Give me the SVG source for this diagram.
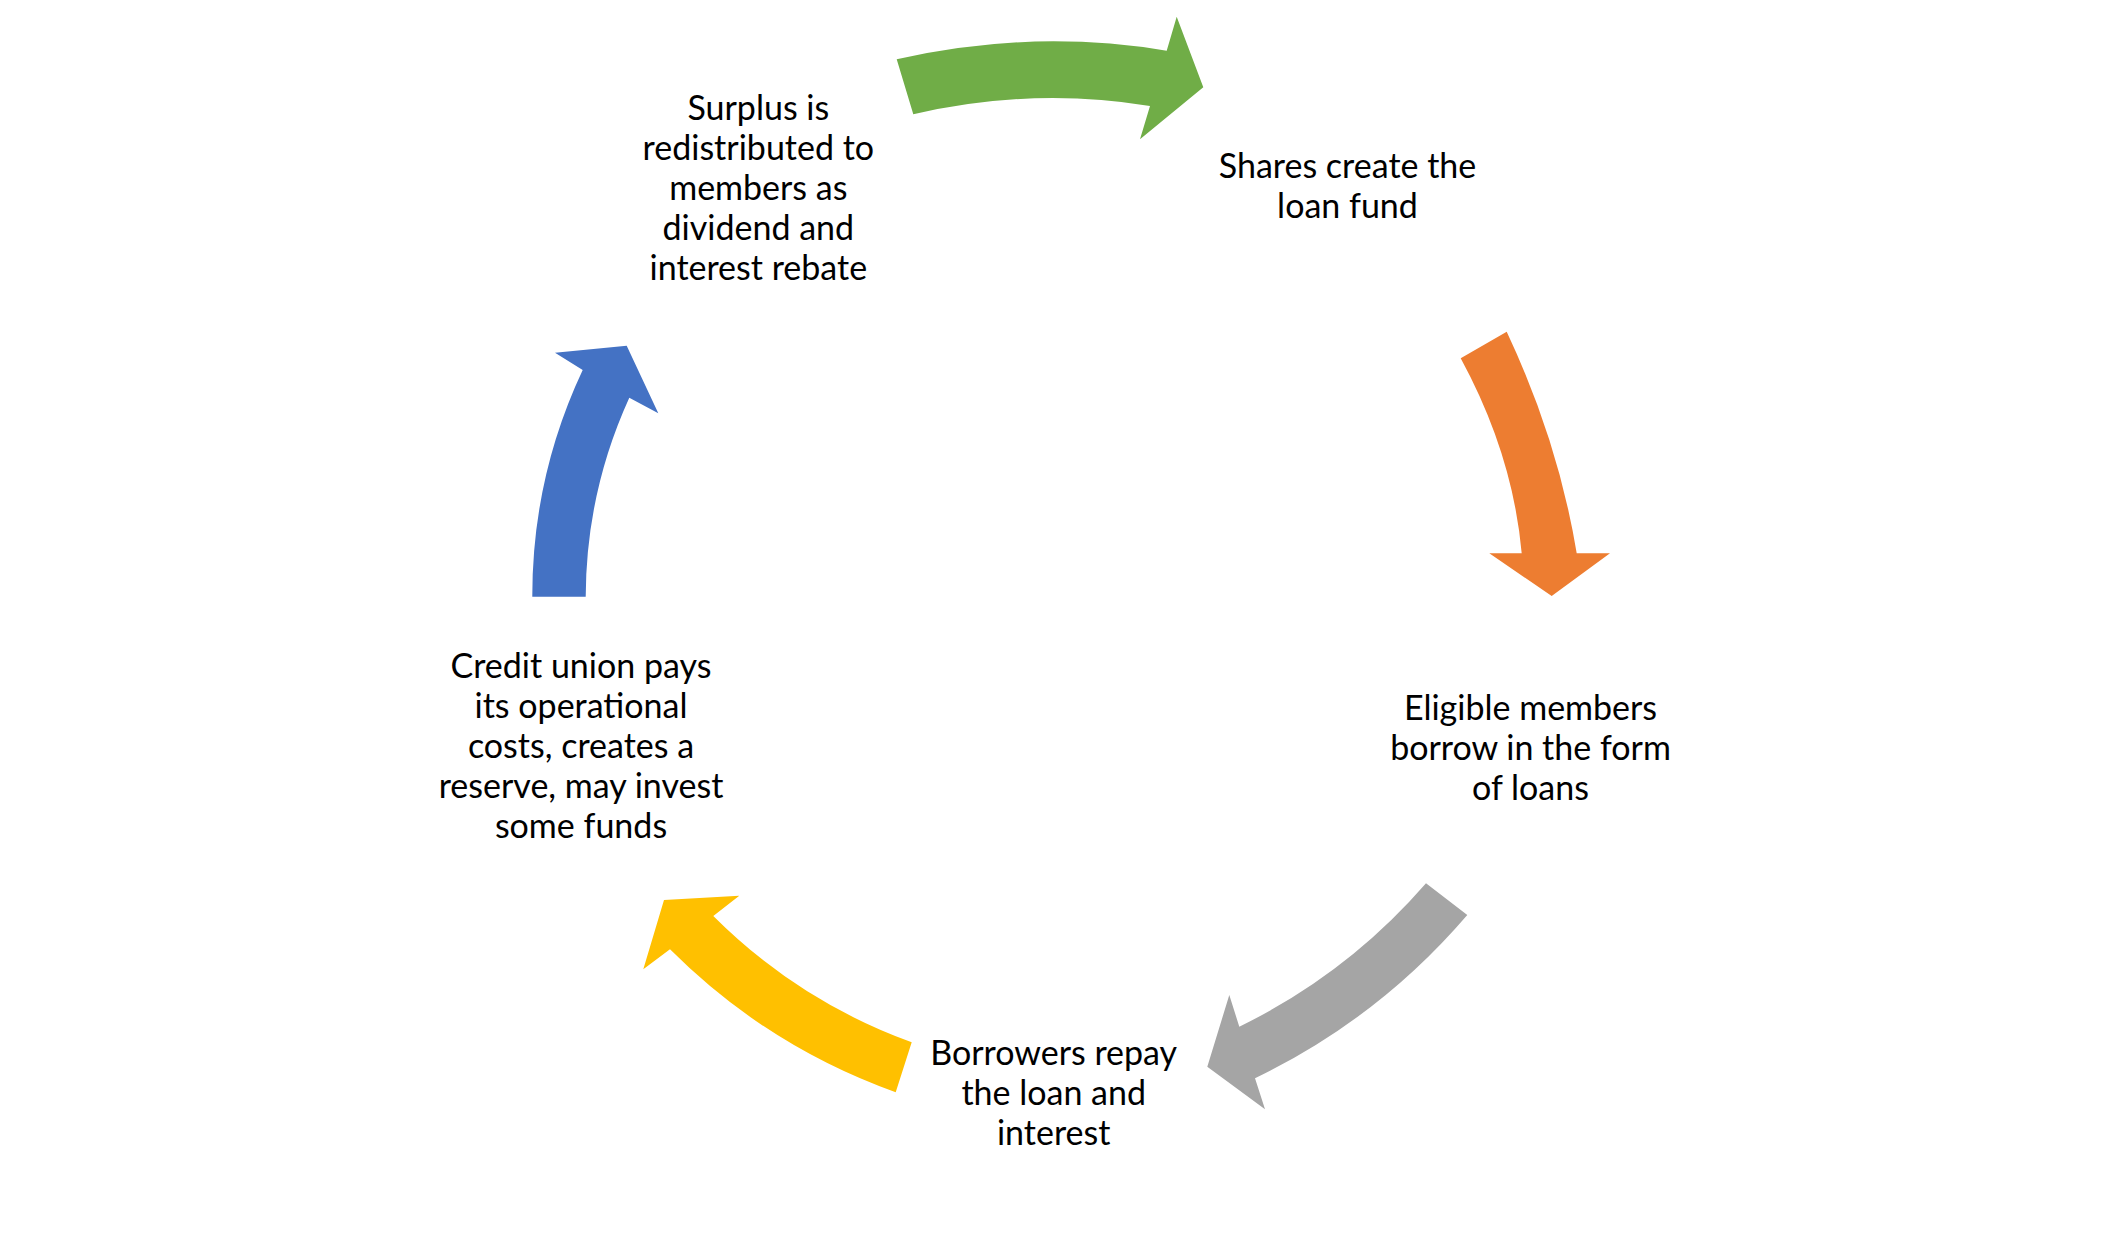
<svg xmlns="http://www.w3.org/2000/svg" width="2108" height="1246" viewBox="0 0 2108 1246">
<style>
.t{font-family:Lato,"Liberation Sans",sans-serif;font-size:34px;fill:#000;text-anchor:middle}
</style>
<rect width="2108" height="1246" fill="#fff"/>
<g id="connectors">
<path id="arrow-green" fill="#70AD47" d="M896.7,59.3 Q1031.7,28.4 1166.7,50.7 L1176.7,16.7 L1203.3,87.3 L1140,139.3 L1150,106 Q1031.7,86.8 913.3,114.3 Z"/>
<path id="arrow-orange" fill="#ED7D31" d="M1506.7,331.7 Q1558.3,441.5 1576.7,553.3 L1610,553.3 L1551.7,596 L1489.3,553.3 L1521.7,553.3 Q1512.8,454.2 1460.7,358.3 Z"/>
<path id="arrow-gray" fill="#A5A5A5" d="M1426,883.3 L1467.3,915 Q1378.2,1018.9 1255,1078.3 L1265,1109.3 L1207.3,1066.7 L1229.3,995 L1239.3,1026.7 Q1347.3,974 1426,883.3 Z"/>
<path id="arrow-yellow" fill="#FFC000" d="M911.7,1042.3 L895.7,1092.3 Q766.9,1046.2 670,949.3 L643.3,969.3 L664,900 L739.3,895.7 L713.3,916 Q798.5,1001.2 911.7,1042.3 Z"/>
<path id="arrow-blue" fill="#4472C4" d="M532.3,596.7 Q532.1,477.7 582.7,370 L555,352.7 L626.7,345.7 L658.3,413.3 L629.3,397.7 Q586.1,492.4 585.7,596.7 Z"/>
</g>
<g id="node-surplus">
<text class="t" x="758.3" y="120">Surplus is</text>
<text class="t" x="758.3" y="160">redistributed to</text>
<text class="t" x="758.3" y="200">members as</text>
<text class="t" x="758.3" y="240">dividend and</text>
<text class="t" x="758.3" y="280">interest rebate</text>
</g>
<g id="node-shares">
<text class="t" x="1347.5" y="178">Shares create the</text>
<text class="t" x="1347.5" y="218">loan fund</text>
</g>
<g id="node-eligible">
<text class="t" x="1530.5" y="720">Eligible members</text>
<text class="t" x="1530.5" y="760">borrow in the form</text>
<text class="t" x="1530.5" y="800">of loans</text>
</g>
<g id="node-borrowers">
<text class="t" x="1053.7" y="1065">Borrowers repay</text>
<text class="t" x="1053.7" y="1105">the loan and</text>
<text class="t" x="1053.7" y="1145">interest</text>
</g>
<g id="node-credit">
<text class="t" x="581" y="678">Credit union pays</text>
<text class="t" x="581" y="718">its operational</text>
<text class="t" x="581" y="758">costs, creates a</text>
<text class="t" x="581" y="798">reserve, may invest</text>
<text class="t" x="581" y="838">some funds</text>
</g>
</svg>
